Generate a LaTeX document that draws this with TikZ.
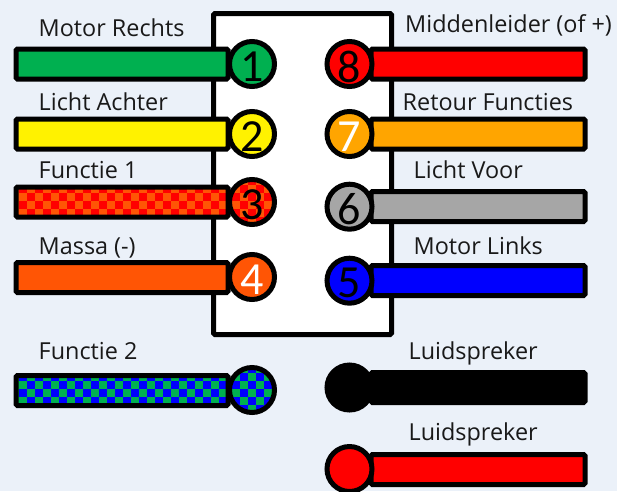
\documentclass[tikz,border=0pt]{standalone}
\usepackage{fontspec}
\setmainfont{Open Sans}
\newfontfamily\digitfont{Carlito}
\definecolor{bgc}{HTML}{EBF1F9}
\definecolor{wgreen}{HTML}{00B050}
\definecolor{worange}{HTML}{FF5505}
\definecolor{wamber}{HTML}{FFA500}
\definecolor{wgrey}{HTML}{A6A6A6}
\usetikzlibrary{calc}
\newcommand{\checkfill}[2]{%
  \fill[#1,sharp corners] (path picture bounding box.south west) rectangle (path picture bounding box.north east);
  \foreach \i in {0,...,28}{\foreach \j in {0,...,6}{%
    \pgfmathtruncatemacro{\pr}{mod(\i+\j,2)}%
    \ifnum\pr=0
      \fill[#2,sharp corners] ($(path picture bounding box.north west)+(\i*8+2.5,\j*8-2.2)$) rectangle +(8,8);
    \fi}}}
\tikzset{
  wirebox/.style={draw=black,line width=5pt,rounded corners=1.5pt,inner sep=0pt,minimum width=#1,minimum height=30pt},
  pinbox/.style={circle,draw=black,line width=5pt,inner sep=0pt,minimum size=45pt,text depth=0pt},
  pinnum/.style={font=\digitfont\fontsize{46}{46}\selectfont,yshift=-2.5pt},
  lab/.style={anchor=base west,inner sep=0pt,text=black!90,font=\fontsize{23.4}{26}\selectfont},
  checkAB/.style={path picture={\checkfill{worange}{red}}},
  checkCD/.style={path picture={\checkfill{wgreen}{blue}}}
}
\begin{document}
\begin{tikzpicture}[x=1pt,y=-1pt]
\useasboundingbox (0,0) rectangle (617,491);
\fill[bgc] (0,0) rectangle (617,491);
% connector housing
\node[draw=black,fill=white,line width=5pt,rounded corners=1.5pt,inner sep=0pt,minimum width=178pt,minimum height=321pt] (housing) at (302.5,174) {};
% left wires
\node[wirebox=212pt,fill=wgreen] (w1) at (122,64) {};
\node[wirebox=212pt,fill=yellow] (w2) at (122,134) {};
\node[wirebox=212pt,checkAB] (w3) at (122,202) {};
\node[wirebox=212pt,fill=worange] (w4) at (122,277.5) {};
\node[wirebox=212pt,checkCD] (w9) at (122,390.5) {};
% right wires
\node[wirebox=214pt,fill=red] (w8) at (478,64) {};
\node[wirebox=214pt,fill=wamber] (w7) at (478,134) {};
\node[wirebox=214pt,fill=wgrey] (w6) at (478,206.5) {};
\node[wirebox=214pt,fill=blue] (w5) at (478,280.5) {};
\node[wirebox=214pt,fill=black] (w10) at (478,387.5) {};
\node[wirebox=214pt,fill=red] (w11) at (478,469.5) {};
% pins
\node[pinbox,fill=wgreen] (p1) at (252,64) {};
\node[pinbox,fill=yellow] (p2) at (252,134) {};
\node[pinbox,checkAB] (p3) at (252,202) {};
\node[pinbox,fill=worange] (p4) at (252,277) {};
\node[pinbox,checkCD] (p9) at (252,390) {};
\node[pinbox,fill=red] (p8) at (349.5,64) {};
\node[pinbox,fill=wamber] (p7) at (349.5,134) {};
\node[pinbox,fill=wgrey] (p6) at (349.5,206.7) {};
\node[pinbox,fill=blue] (p5) at (349.5,280.7) {};
\node[pinbox,fill=black] (p10) at (349.5,387.5) {};
\node[pinbox,fill=red] (p11) at (349.5,469) {};
% pin numbers
\node[pinnum] (t1) at (p1) {1};
\node[pinnum] (t2) at (p2) {2};
\node[pinnum] (t3) at (p3) {3};
\node[pinnum,text=white] (t4) at (p4) {4};
\node[pinnum] (t8) at (p8) {8};
\node[pinnum,text=white] (t7) at (p7) {7};
\node[pinnum] (t6) at (p6) {6};
\node[pinnum] (t5) at (p5) {5};
% labels
\node[lab] (l1) at (38.5,36) {Motor Rechts};
\node[lab] (l2) at (38.5,110) {Licht Achter};
\node[lab] (l3) at (38.5,178) {Functie 1};
\node[lab] (l4) at (38.5,254) {Massa (-)};
\node[lab] (l9) at (38.5,359) {Functie 2};
\node[lab] (l8) at (405,32) {Middenleider (of +)};
\node[lab] (l7) at (402.5,110) {Retour Functies};
\node[lab] (l6) at (413.5,178) {Licht Voor};
\node[lab] (l5) at (413.5,254) {Motor Links};
\node[lab] (l10) at (408.5,359) {Luidspreker};
\node[lab] (l11) at (408.5,440) {Luidspreker};
\end{tikzpicture}
\end{document}
